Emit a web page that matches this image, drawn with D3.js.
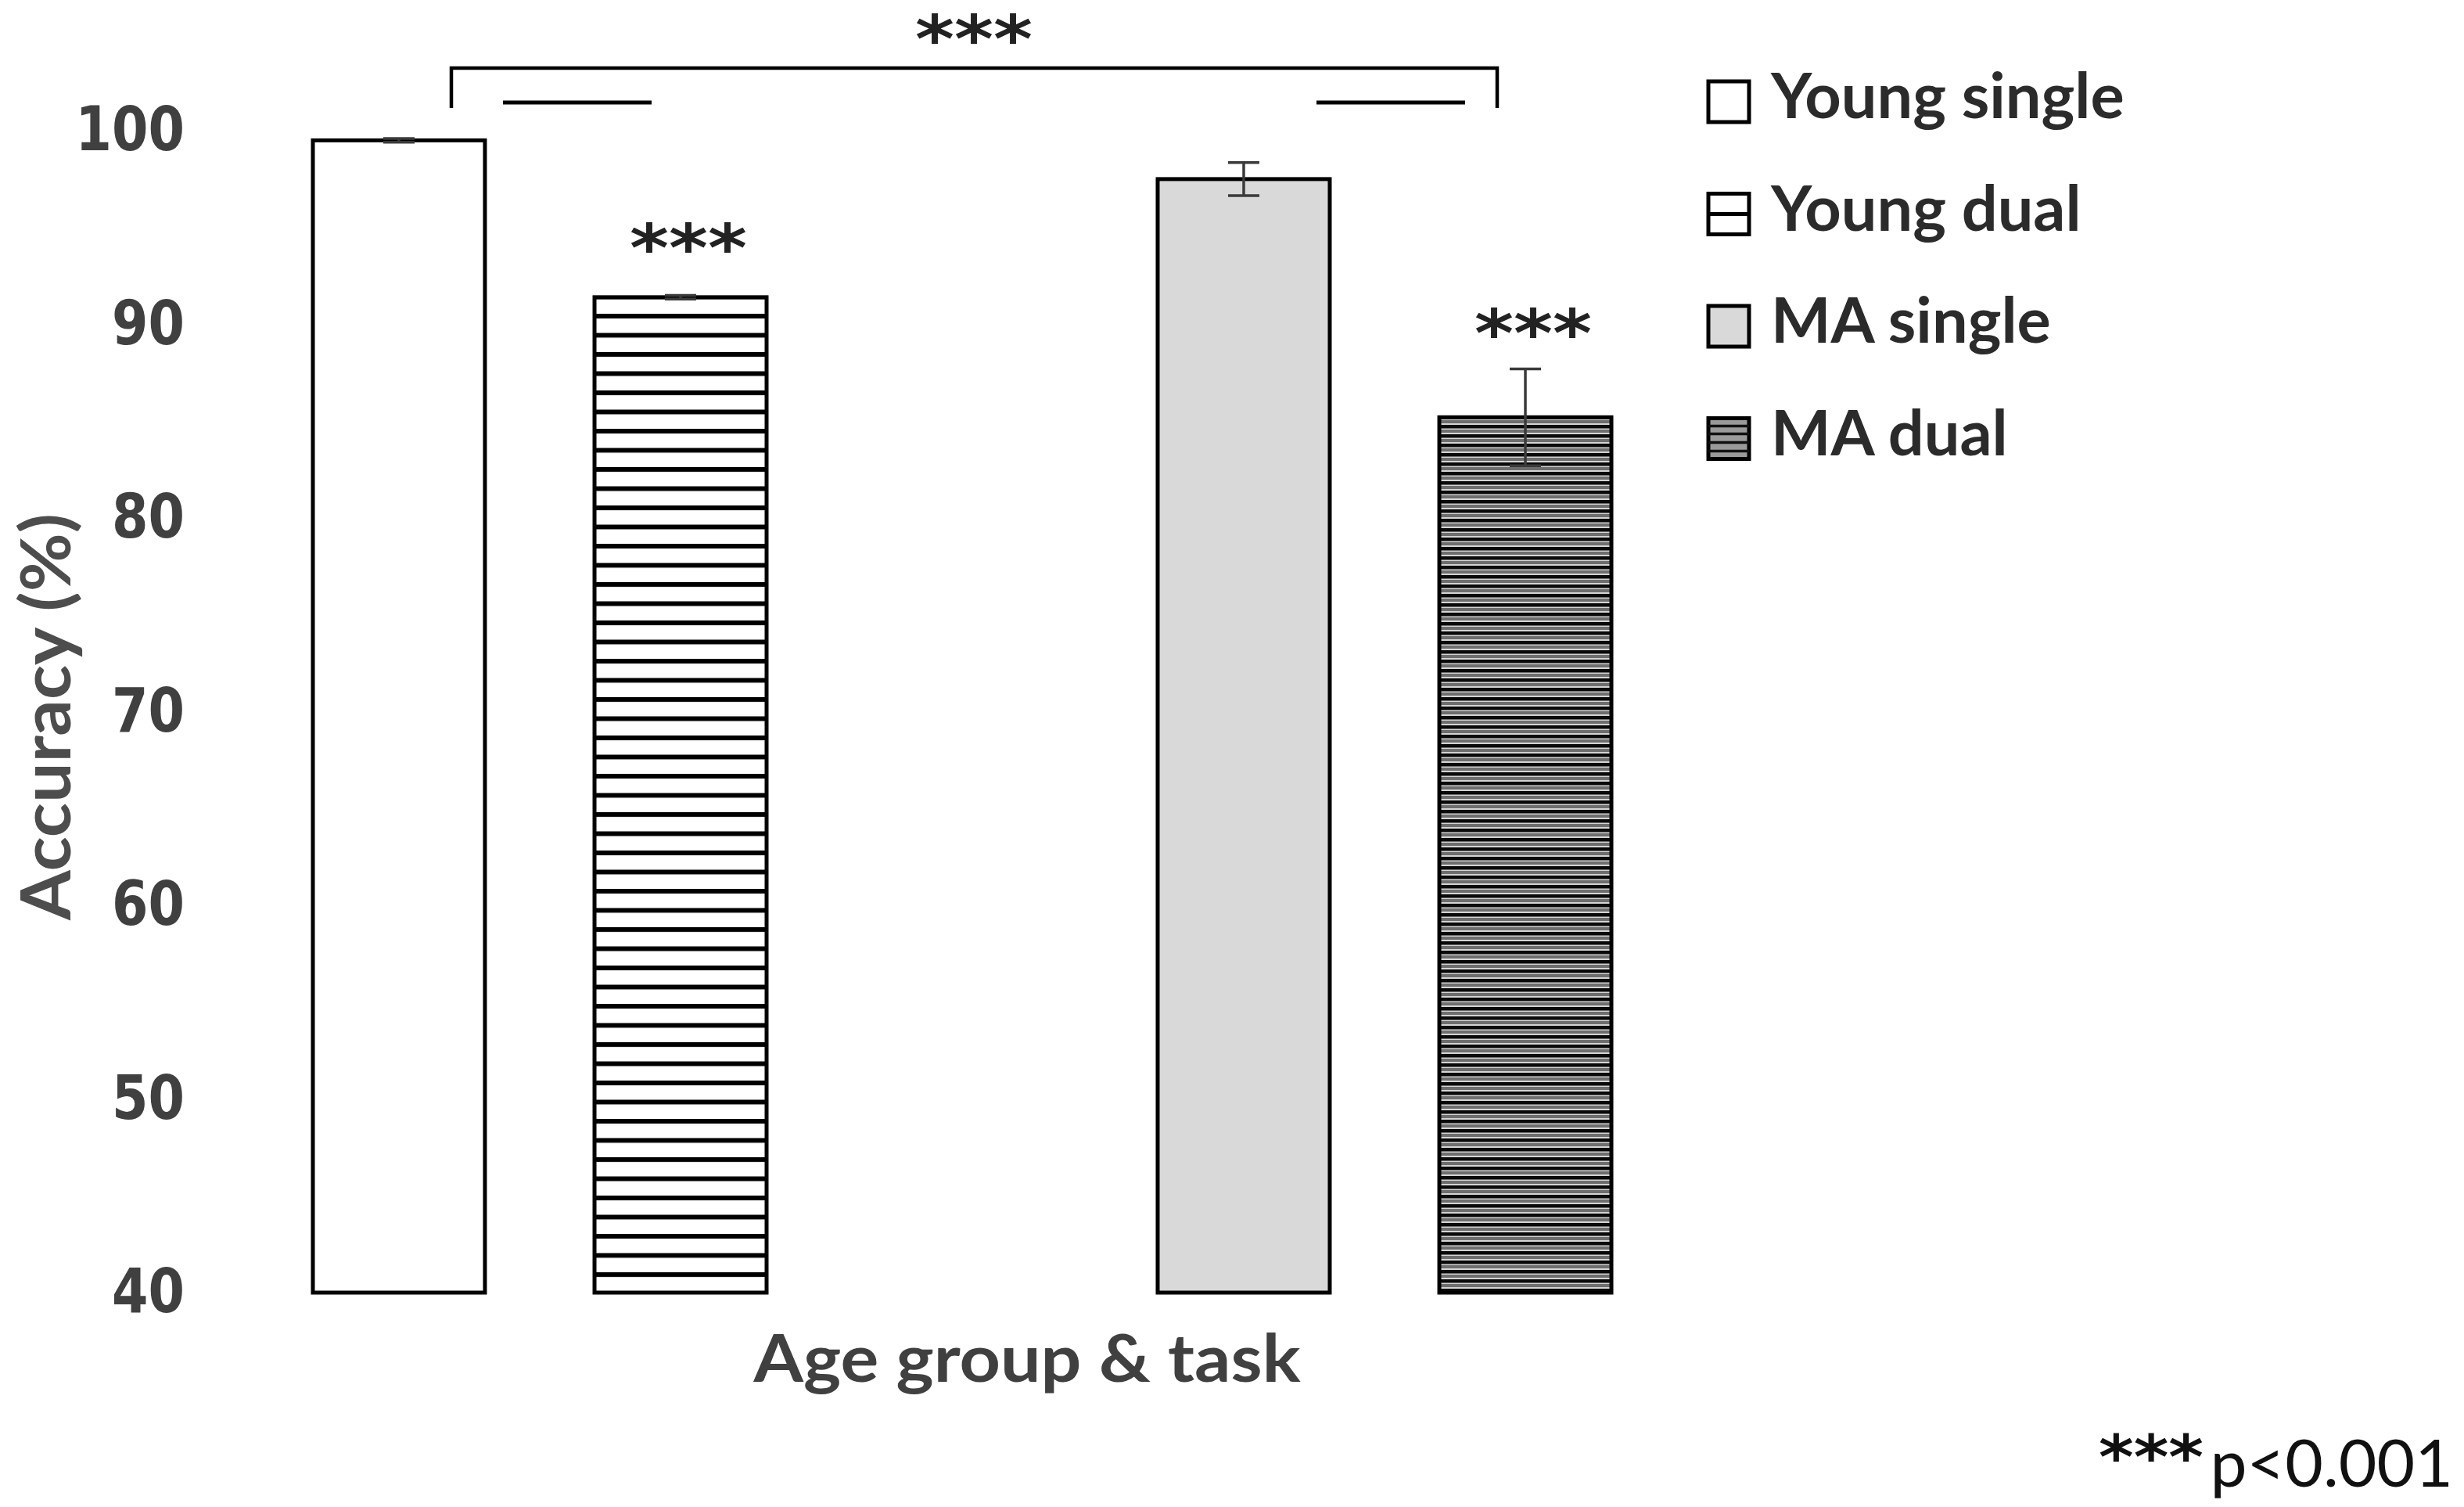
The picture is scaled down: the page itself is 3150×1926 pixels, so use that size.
<!DOCTYPE html>
<html>
<head>
<meta charset="utf-8">
<script src="https://cdn.jsdelivr.net/npm/d3@7"></script>
<style>
  body { margin: 0; background: #fff; }
  svg { display: block; }
</style>
</head>
<body>
<div id="chart"></div>
<script>
// values
const categories = ["Young single", "Young dual", "MA single", "MA dual"];
const groupNames = ["Young", "MA"];
const taskNames = ["single", "dual"];
const accuracy = [99.5, 91.4, 97.5, 85.2];
const errors = [0.1, 0.1, 0.85, 2.5];
const yTicks = [40, 50, 60, 70, 80, 90, 100];
const starred = ["Young dual", "MA dual"];

const width = 3150, height = 1926;

const rows = categories.map((c, i) => ({
  name: c,
  group: c.split(" ")[0],
  task: c.split(" ")[1],
  value: accuracy[i],
  err: errors[i]
}));

const svg = d3.select("#chart")
  .append("svg")
  .attr("width", width)
  .attr("height", height);

// hatch patterns
const defs = svg.append("defs");
const pYoung = defs.append("pattern")
  .attr("id", "hYoung")
  .attr("patternUnits", "userSpaceOnUse")
  .attr("width", 40).attr("height", 24.5)
  .attr("y", 9);
pYoung.append("rect").attr("width", 40).attr("height", 24.5).attr("fill", "#fff");
pYoung.append("rect").attr("y", 0).attr("width", 40).attr("height", 6).attr("fill", "#000");

const pMA = defs.append("pattern")
  .attr("id", "hMA")
  .attr("patternUnits", "userSpaceOnUse")
  .attr("width", 40).attr("height", 12)
  .attr("y", 3);
pMA.append("rect").attr("width", 40).attr("height", 12).attr("fill", "#d4d4d4");
pMA.append("rect").attr("y", 0).attr("width", 40).attr("height", 4.5).attr("fill", "#0a0a0a");
pMA.append("rect").attr("y", 6).attr("width", 40).attr("height", 4).attr("fill", "#6e6e6e");

const fills = {
  "Young single": "#ffffff",
  "Young dual": "url(#hYoung)",
  "MA single": "#d9d9d9",
  "MA dual": "url(#hMA)"
};

// scales
const x0 = d3.scaleBand()
  .domain(groupNames)
  .range([330, 2130])
  .paddingInner(1 / 3)
  .paddingOuter(0);

const x1 = d3.scaleBand()
  .domain(taskNames)
  .range([0, x0.bandwidth()])
  .paddingInner(0.389)
  .paddingOuter(0.1944);

const y = d3.scaleLinear()
  .domain([40, 100])
  .range([1652, 167]);

// y axis, labels only
const yAxis = svg.append("g")
  .attr("transform", "translate(250,0)")
  .call(d3.axisLeft(y).tickValues(yTicks).tickSize(0).tickPadding(14));
yAxis.select(".domain").remove();
yAxis.selectAll("text")
  .attr("font-family", "DejaVu Sans")
  .attr("font-weight", "bold")
  .attr("font-size", 78)
  .attr("fill", "#404040")
  .attr("textLength", d => String(d).length * 46.5)
  .attr("lengthAdjust", "spacingAndGlyphs");

svg.append("text")
  .attr("transform", "translate(90,916) rotate(-90)")
  .attr("text-anchor", "middle")
  .attr("font-family", "Lato")
  .attr("font-weight", "bold")
  .attr("font-size", 88)
  .attr("fill", "#4d4d4d")
  .attr("textLength", 520)
  .attr("lengthAdjust", "spacingAndGlyphs")
  .text("Accuracy (%)");

svg.append("text")
  .attr("x", 1313)
  .attr("y", 1766)
  .attr("text-anchor", "middle")
  .attr("font-family", "Lato")
  .attr("font-weight", "bold")
  .attr("font-size", 84)
  .attr("fill", "#404040")
  .attr("textLength", 699)
  .attr("lengthAdjust", "spacingAndGlyphs")
  .text("Age group & task");

// bars
const barX = d => x0(d.group) + x1(d.task);
const barMid = d => barX(d) + x1.bandwidth() / 2;

svg.selectAll(".bar")
  .data(rows)
  .enter()
  .append("rect")
  .attr("class", "bar")
  .attr("x", barX)
  .attr("y", d => y(d.value))
  .attr("width", x1.bandwidth())
  .attr("height", d => y(40) - y(d.value))
  .attr("fill", d => fills[d.name])
  .attr("stroke", "#000")
  .attr("stroke-width", 5);

// error bars
const eb = svg.selectAll(".err")
  .data(rows)
  .enter()
  .append("g")
  .attr("class", "err")
  .attr("stroke", "#3a3a3a")
  .attr("stroke-width", 3.5);
eb.append("line")
  .attr("x1", barMid)
  .attr("x2", barMid)
  .attr("y1", d => y(d.value + d.err))
  .attr("y2", d => y(d.value - d.err));
eb.selectAll(".cap")
  .data(d => [d.value + d.err, d.value - d.err].map(v => ({ d, v })))
  .enter()
  .append("line")
  .attr("x1", o => barMid(o.d) - 20)
  .attr("x2", o => barMid(o.d) + 20)
  .attr("y1", o => y(o.v))
  .attr("y2", o => y(o.v));

// stars above dual bars
const starFont = { family: "DejaVu Sans", size: 84 };
svg.selectAll(".star")
  .data(rows.filter(d => starred.includes(d.name)))
  .enter()
  .append("text")
  .attr("class", "star")
  .attr("x", d => barMid(d) + 10)
  .attr("y", d => Math.min(y(d.value + d.err) - 16, y(d.value) - 34))
  .attr("text-anchor", "middle")
  .attr("font-family", starFont.family)
  .attr("font-weight", "bold")
  .attr("font-size", starFont.size)
  .attr("fill", "#222")
  .attr("textLength", 150)
  .attr("lengthAdjust", "spacingAndGlyphs")
  .text("***");

// significance bracket between groups
const bracket = svg.append("g").attr("stroke", "#000").attr("fill", "none");
bracket.append("path")
  .attr("d", "M577,138 V87 H1914 V138")
  .attr("stroke-width", 4.5);
bracket.append("line").attr("x1", 643).attr("x2", 833).attr("y1", 131).attr("y2", 131).attr("stroke-width", 5);
bracket.append("line").attr("x1", 1683).attr("x2", 1873).attr("y1", 131).attr("y2", 131).attr("stroke-width", 5);
svg.append("text")
  .attr("x", 1245)
  .attr("y", 79)
  .attr("text-anchor", "middle")
  .attr("font-family", starFont.family)
  .attr("font-weight", "bold")
  .attr("font-size", starFont.size)
  .attr("fill", "#222")
  .attr("textLength", 150)
  .attr("lengthAdjust", "spacingAndGlyphs")
  .text("***");

// legend
const legend = svg.selectAll(".leg")
  .data(rows)
  .enter()
  .append("g")
  .attr("class", "leg")
  .attr("transform", (d, i) => `translate(2184,${104 + i * 143.5})`);
legend.append("rect")
  .attr("width", 52).attr("height", 52)
  .attr("fill", d => d.name === "MA single" ? "#d9d9d9" : d.name === "MA dual" ? "#9a9a9a" : "#fff")
  .attr("stroke", "#000")
  .attr("stroke-width", 5);
legend.filter(d => d.name === "Young dual")
  .append("line")
  .attr("x1", 0).attr("x2", 52).attr("y1", 26).attr("y2", 26)
  .attr("stroke", "#000").attr("stroke-width", 5);
legend.filter(d => d.name === "MA dual")
  .selectAll(".hl")
  .data([10, 20, 31, 42])
  .enter()
  .append("line")
  .attr("x1", 0).attr("x2", 52).attr("y1", v => v).attr("y2", v => v)
  .attr("stroke", "#111").attr("stroke-width", 3.5);
legend.append("text")
  .attr("x", 80)
  .attr("y", 47)
  .attr("font-family", "Lato")
  .attr("font-weight", "bold")
  .attr("font-size", 81)
  .attr("fill", "#2b2b2b")
  .text(d => d.name);

// footnote
svg.append("text")
  .attr("x", 2750)
  .attr("y", 1890)
  .attr("text-anchor", "middle")
  .attr("font-family", "DejaVu Sans")
  .attr("font-weight", "bold")
  .attr("font-size", 79)
  .attr("fill", "#111")
  .attr("textLength", 134)
  .attr("lengthAdjust", "spacingAndGlyphs")
  .text("***");
svg.append("text")
  .attr("x", 3136)
  .attr("y", 1900)
  .attr("text-anchor", "end")
  .attr("font-family", "Lato")
  .attr("font-size", 84)
  .attr("fill", "#111")
  .text("p<0.001");
</script>
</body>
</html>
